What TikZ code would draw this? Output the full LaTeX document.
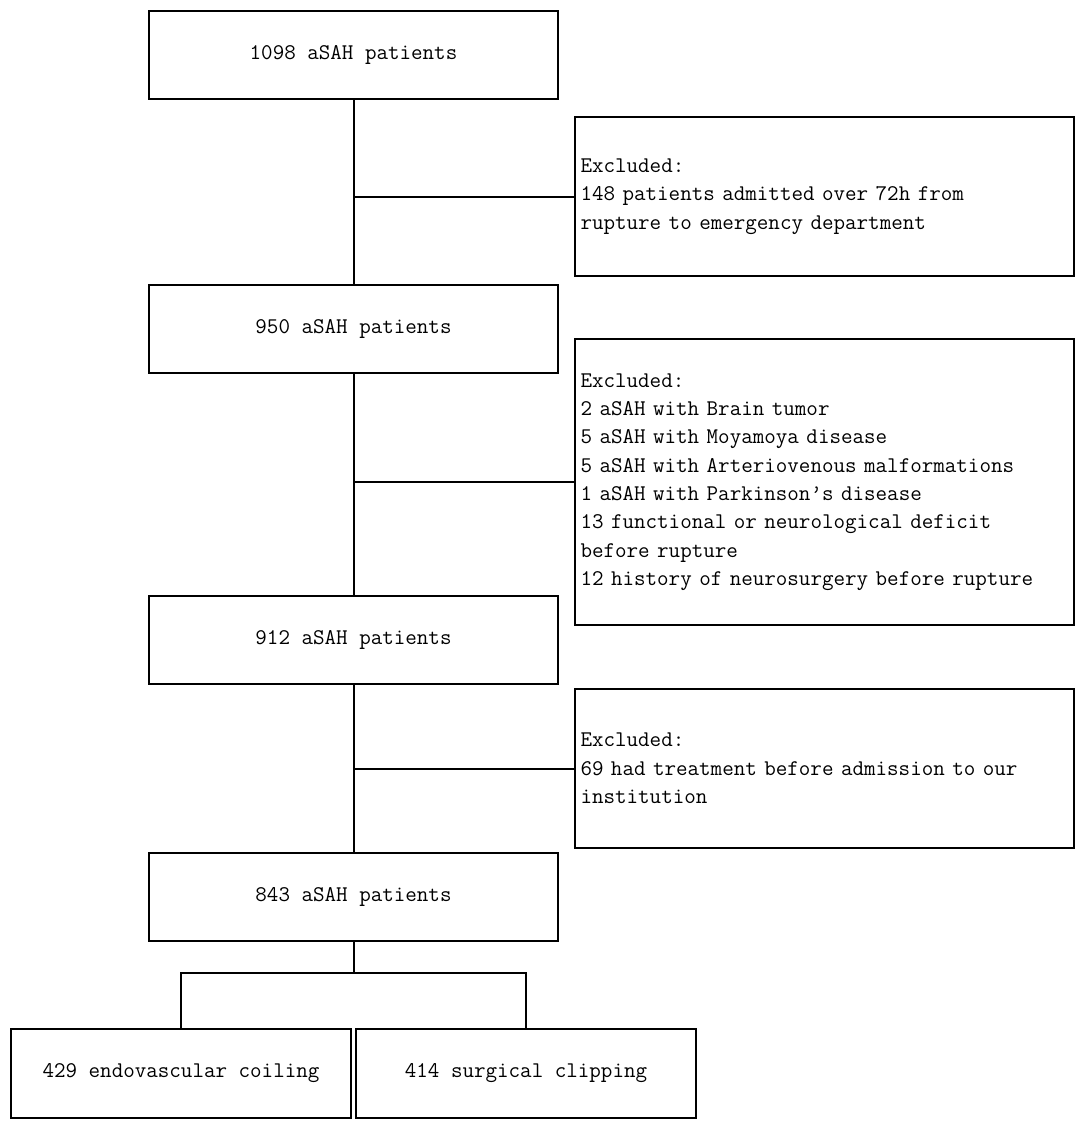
\documentclass[tikz,border=0pt]{standalone}
\begin{document}
\begin{tikzpicture}[x=0.5pt,y=-0.5pt,line width=1pt,
    font=\ttfamily\fontsize{11.2}{14.15}\selectfont,
    stage/.style={draw,minimum width=204.5pt,minimum height=44pt,inner sep=0pt},
    excl/.style={draw,align=left,text width=243.5pt,inner xsep=3pt,minimum height=79.5pt},
    arm/.style={draw,minimum width=170pt,minimum height=44.5pt,inner sep=0pt}]
    \useasboundingbox (0,0) rectangle (1084,1124);
    % main stages
    \node [stage] (n1) at (353.5,55) {1098 aSAH patients};
    \node [stage] (n2) at (353.5,329) {950 aSAH patients};
    \node [stage] (n3) at (353.5,640) {912 aSAH patients};
    \node [stage] (n4) at (353.5,897) {843 aSAH patients};
    % exclusions
    \node [excl] (x1) at (824,196.5) {Excluded:\\148 patients admitted over 72h from\\rupture to emergency department};
    \node [excl,minimum height=143pt] (x2) at (824,482) {Excluded:\\2 aSAH with Brain tumor\\5 aSAH with Moyamoya disease\\5 aSAH with Arteriovenous malformations\\1 aSAH with Parkinson’s disease\\13 functional or neurological deficit\\before rupture\\12 history of neurosurgery before rupture};
    \node [excl] (x3) at (824,768.5) {Excluded:\\69 had treatment before admission to our\\institution};
    % treatment arms
    \node [arm] (c1) at (181,1073.5) {429 endovascular coiling};
    \node [arm] (c2) at (526,1073.5) {414 surgical clipping};
    \draw (n1) -- (n2);
    \draw (n2) -- (n3);
    \draw (n3) -- (n4);
    \coordinate (j1) at (n1.south |- x1.west);
    \coordinate (j2) at (n1.south |- x2.west);
    \coordinate (j3) at (n1.south |- x3.west);
    \draw (j1) -- (x1.west);
    \draw (j2) -- (x2.west);
    \draw (j3) -- (x3.west);
    \coordinate (b) at (353.5,973);
    \draw (n4) -- (b);
    \draw (c1.north) |- (b) -| (c2.north);
\end{tikzpicture}
\end{document}
